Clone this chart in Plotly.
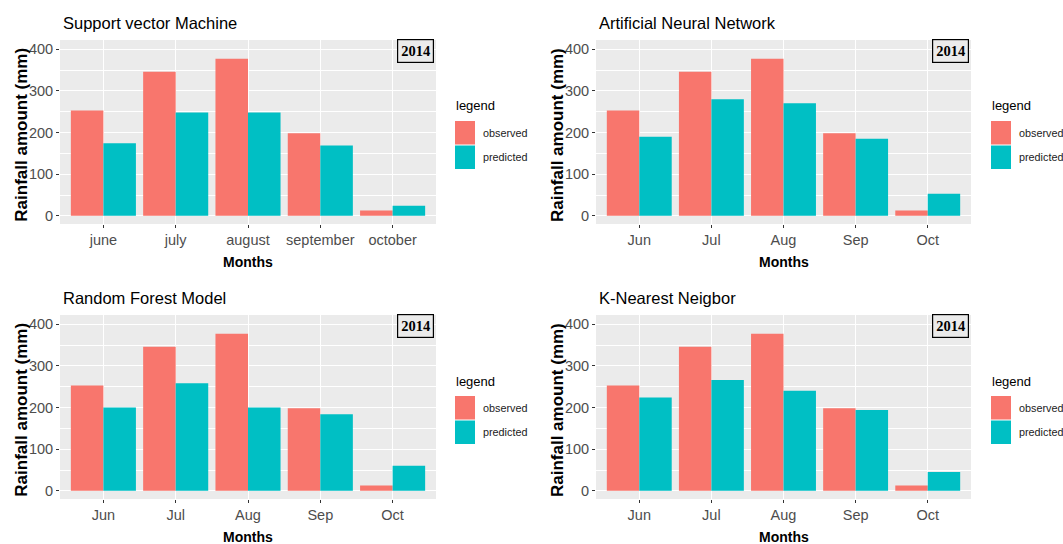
import plotly.graph_objects as go

# ---- data -------------------------------------------------------------
months_full = ["june", "july", "august", "september", "october"]
months_abbr = ["Jun", "Jul", "Aug", "Sep", "Oct"]

observed = [253, 346, 377, 198, 13]
pred_svm = [174, 248, 248, 169, 24]
pred_ann = [190, 280, 270, 185, 53]
pred_rf = [200, 258, 200, 184, 60]
pred_knn = [224, 266, 240, 194, 45]

model_titles = ["Support vector Machine", "Artificial Neural Network",
                "Random Forest Model", "K-Nearest Neigbor"]
year_label = "2014"
y_tick_vals = [0, 100, 200, 300, 400]
legend_labels = ["observed", "predicted"]

# ---- styling ----------------------------------------------------------
W, H = 1063, 544
OBS_COLOR = "#F8766D"
PRED_COLOR = "#00BFC4"
PANEL_BG = "#EBEBEB"
SANS = "Liberation Sans, Arial"
SERIF = "Liberation Serif, Times New Roman"


def px(x):
    return x / W


def py(y):
    return 1 - y / H


panels = [
    dict(title=model_titles[0], cats=months_full, pred=pred_svm,
         left=60, right=436, top=40, bottom=224, ytx=20.7, keyx=455),
    dict(title=model_titles[1], cats=months_abbr, pred=pred_ann,
         left=596, right=971, top=40, bottom=224, ytx=557, keyx=991),
    dict(title=model_titles[2], cats=months_abbr, pred=pred_rf,
         left=60, right=436, top=315, bottom=499, ytx=20.7, keyx=455),
    dict(title=model_titles[3], cats=months_abbr, pred=pred_knn,
         left=596, right=971, top=315, bottom=499, ytx=557, keyx=991),
]

fig = go.Figure()
annotations = []
shapes = []

for i, p in enumerate(panels, start=1):
    xa = "x" if i == 1 else f"x{i}"
    ya = "y" if i == 1 else f"y{i}"

    fig.add_trace(go.Bar(x=p["cats"], y=observed, name=legend_labels[0],
                         marker=dict(color=OBS_COLOR, line=dict(width=0)),
                         xaxis=xa, yaxis=ya, showlegend=False, offsetgroup="obs"))
    fig.add_trace(go.Bar(x=p["cats"], y=p["pred"], name=legend_labels[1],
                         marker=dict(color=PRED_COLOR, line=dict(width=0)),
                         xaxis=xa, yaxis=ya, showlegend=False, offsetgroup="pred"))

    xkey = "xaxis" if i == 1 else f"xaxis{i}"
    ykey = "yaxis" if i == 1 else f"yaxis{i}"
    fig.layout[xkey] = dict(
        domain=[px(p["left"]), px(p["right"])],
        anchor=ya, type="category", range=[-0.6, 4.6],
        showgrid=True, gridcolor="white", gridwidth=1.1,
        ticks="outside", ticklen=3, tickwidth=1, tickcolor="#333333",
        tickfont=dict(family=SANS, size=14.5, color="#4D4D4D"),
        showline=False, zeroline=False, fixedrange=True,
    )
    fig.layout[ykey] = dict(
        domain=[py(p["bottom"]), py(p["top"])],
        anchor=xa, range=[-19.5, 422],
        tickvals=y_tick_vals,
        showgrid=True, gridcolor="white", gridwidth=1.1,
        minor=dict(dtick=50, tick0=0, showgrid=True, gridcolor="white", gridwidth=0.5),
        ticks="outside", ticklen=3, tickwidth=1, tickcolor="#333333",
        tickfont=dict(family=SANS, size=14.5, color="#4D4D4D"),
        showline=False, zeroline=False, fixedrange=True,
    )

    # panel title
    annotations.append(dict(
        text=p["title"], xref="paper", yref="paper",
        x=px(p["left"] + 0.5), y=py(p["top"] - 17), xanchor="left", yanchor="middle",
        showarrow=False, font=dict(family=SANS, size=16.5, color="black")))
    # y axis title
    annotations.append(dict(
        text="<b>Rainfall amount (mm)</b>", xref="paper", yref="paper",
        x=px(p["ytx"]), y=py((p["top"] + p["bottom"]) / 2 + 3), textangle=-90,
        xanchor="center", yanchor="middle", showarrow=False,
        font=dict(family=SANS, size=17, color="black")))
    # x axis title
    annotations.append(dict(
        text="<b>Months</b>", xref="paper", yref="paper",
        x=px((p["left"] + p["right"]) / 2), y=py(p["bottom"] + 37.5),
        xanchor="center", yanchor="middle", showarrow=False,
        font=dict(family=SANS, size=14, color="black")))
    # year tag
    annotations.append(dict(
        text=f"<b>{year_label}</b>", xref="paper", yref="paper",
        x=px(p["right"] - 2.5), y=py(p["top"] - 1), xanchor="right", yanchor="top",
        showarrow=False, bgcolor=PANEL_BG, bordercolor="black", borderwidth=1.2,
        borderpad=3, font=dict(family=SERIF, size=14.5, color="black")))

    # legend block
    kx = p["keyx"]
    t = p["top"]
    annotations.append(dict(
        text="legend", xref="paper", yref="paper",
        x=px(kx - 1), y=py(t + 66), xanchor="left", yanchor="middle",
        showarrow=False, font=dict(family=SANS, size=13, color="black")))
    for j, (lab, col) in enumerate(zip(legend_labels, [OBS_COLOR, PRED_COLOR])):
        y0 = t + 81 + j * 24.5
        y1 = y0 + 23.5
        shapes.append(dict(type="rect", xref="paper", yref="paper",
                           x0=px(kx), x1=px(kx + 20), y0=py(y1), y1=py(y0),
                           fillcolor=col, line=dict(width=0)))
        annotations.append(dict(
            text=lab, xref="paper", yref="paper",
            x=px(kx + 26), y=py((y0 + y1) / 2), xanchor="left", yanchor="middle",
            showarrow=False, font=dict(family=SANS, size=10.8, color="#1A1A1A")))

fig.update_layout(
    width=W, height=H,
    margin=dict(l=0, r=0, t=0, b=0),
    paper_bgcolor="white", plot_bgcolor=PANEL_BG,
    barmode="group", bargap=0.1, bargroupgap=0,
    showlegend=False,
    annotations=annotations, shapes=shapes,
)

fig.write_html("out.html")
